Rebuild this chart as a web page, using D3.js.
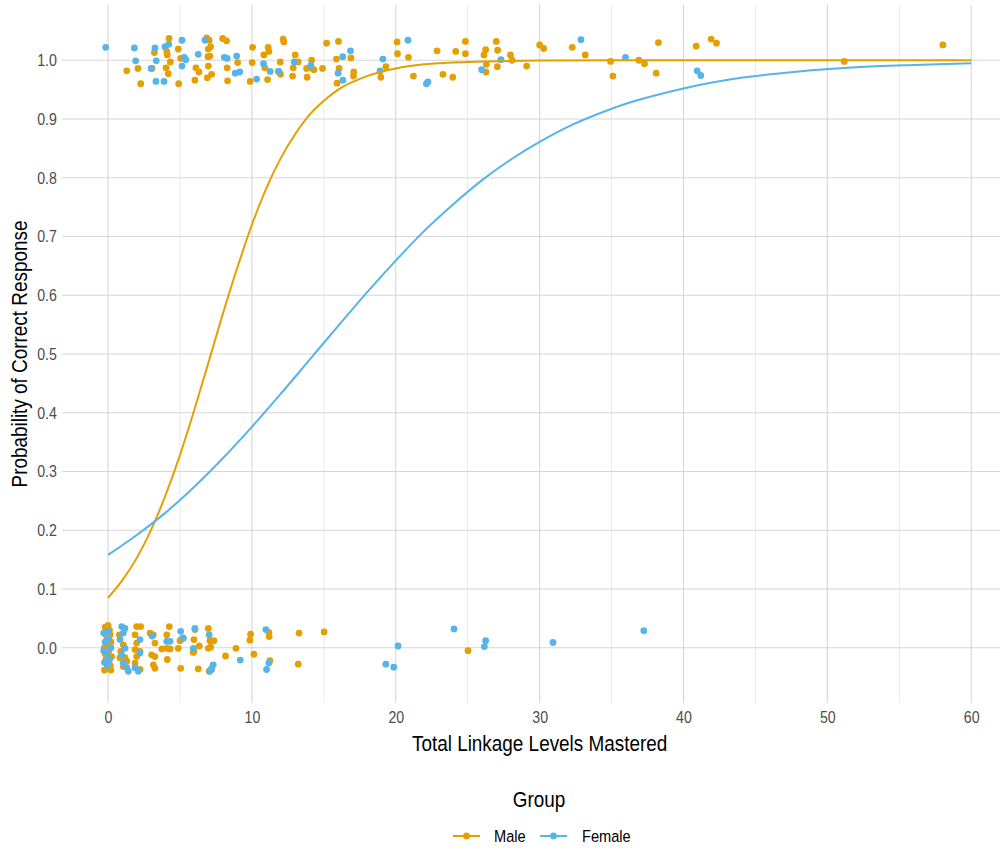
<!DOCTYPE html>
<html>
<head>
<meta charset="utf-8">
<script src="https://cdn.jsdelivr.net/npm/d3@7"></script>
<style>
html,body{margin:0;padding:0;background:#fff;}
text{font-family:"Liberation Sans","Arial",sans-serif;}
</style>
</head>
<body>
<svg id="chart" width="1006" height="850"></svg>
<script>
// ---------- DATA ----------
const groups = ["Male", "Female"];
const groupColors = ["#E69F00", "#56B4E9"];
const xTicks = [0, 10, 20, 30, 40, 50, 60];
const xMinorTicks = [5, 15, 25, 35, 45, 55];
const yTicks = [0.0, 0.1, 0.2, 0.3, 0.4, 0.5, 0.6, 0.7, 0.8, 0.9, 1.0];

// fitted curves
const curveMaleX = [0,1,2,3,4,5,6,7,8,9,10,11,12,13,14,15,16,18,20,22,25,30,35,40,50,60];
const curveMaleY = [0.085,0.115,0.153,0.201,0.260,0.328,0.405,0.487,0.570,0.648,0.720,0.782,0.833,0.874,0.907,0.931,0.950,0.973,0.986,0.993,0.997,0.9995,1.0,1.0,1.0,1.0];
const curveFemaleX = [0,2,4,6,8,10,12,14,16,18,20,22,24,26,28,30,32,34,36,38,40,44,48,52,56,60];
const curveFemaleY = [0.158,0.192,0.230,0.274,0.323,0.376,0.432,0.490,0.548,0.605,0.659,0.710,0.755,0.796,0.831,0.861,0.887,0.908,0.926,0.940,0.952,0.970,0.981,0.988,0.992,0.995];

// jittered observations, correct (near 1)
const maleTopX = [1.30,2.08,2.27,3.22,3.06,4.24,4.08,4.12,4.33,4.03,4.19,4.88,5.05,4.91,6.11,6.32,6.04,6.85,7.03,6.97,7.13,6.94,7.08,6.97,7.20,6.90,7.97,8.24,8.28,8.31,9.01,10.05,10.02,9.88,11.13,11.18,10.83,10.90,11.09,12.17,12.22,11.97,11.83,11.99,13.01,13.22,12.87,12.83,13.84,14.15,13.80,14.03,14.31,14.91,15.19,16.02,15.88,16.88,16.06,15.92,17.08,17.06,20.09,20.12,20.88,19.31,18.96,21.23,22.87,23.28,23.96,24.17,24.84,24.84,26.25,26.13,26.30,26.27,27.06,26.99,27.08,27.97,28.08,29.10,30.00,30.28,32.27,33.17,34.93,35.09,36.90,37.29,38.26,38.10,40.88,41.92,42.29,51.18,58.03];
const maleTopY = [0.982,0.986,0.960,1.013,0.986,1.037,1.015,1.009,0.997,0.987,0.977,1.019,1.003,0.960,0.987,0.980,0.966,1.038,1.034,1.019,1.023,1.006,1.007,0.990,0.976,0.970,1.037,1.033,0.987,0.965,0.996,1.022,0.996,0.964,1.022,1.015,1.009,0.987,0.967,1.036,1.031,0.997,0.981,0.976,1.009,0.997,0.987,0.973,0.971,1.000,0.986,0.987,0.984,0.986,1.029,1.032,1.002,1.004,0.986,0.961,0.980,0.973,1.031,1.011,1.005,0.989,0.971,0.973,1.016,0.976,0.971,1.015,1.032,1.011,1.018,1.009,0.993,0.980,0.989,1.032,1.017,1.009,1.000,0.990,1.026,1.020,1.022,1.009,0.998,0.973,1.000,0.994,1.030,0.978,1.024,1.036,1.029,0.998,1.026];
const femaleTopX = [-0.16,1.83,1.92,2.99,3.26,3.35,3.33,3.89,3.96,4.22,5.14,5.30,5.40,5.14,6.27,6.74,8.08,8.28,8.94,8.84,9.15,10.33,10.81,11.27,11.88,12.94,14.10,16.32,16.85,15.99,16.32,19.10,18.91,20.85,22.24,22.13,25.97,27.31,32.87,35.97,40.95,41.20];
const femaleTopY = [1.022,1.021,0.999,0.986,1.021,0.999,0.964,0.964,1.023,1.027,1.034,1.005,1.001,0.990,1.010,1.034,1.005,1.003,1.007,0.978,0.980,0.968,0.994,0.981,0.981,0.997,0.991,1.006,1.016,0.978,0.966,1.002,0.982,1.034,0.963,0.960,0.984,1.001,1.035,1.005,0.982,0.974];

// jittered observations, incorrect (near 0)
const maleBottomX = [-0.20,0.10,-0.10,0.20,-0.25,0.05,0.25,-0.15,0.15,-0.05,0.20,-0.25,0.00,0.15,-0.20,0.10,0.79,1.06,0.88,0.83,1.18,1.30,1.06,1.99,2.27,1.88,1.99,1.88,2.22,1.99,1.88,2.22,2.92,3.15,3.26,3.03,3.26,3.15,3.26,4.26,4.08,3.73,4.08,4.31,4.12,5.00,4.88,5.12,5.05,5.23,6.04,5.97,5.97,6.27,6.34,5.92,6.97,7.08,7.36,6.97,7.20,7.03,7.13,8.17,8.89,9.91,9.86,10.14,11.18,11.20,11.25,13.28,13.22,15.02,25.02];
const maleBottomY = [0.035,0.030,0.020,0.010,0.000,-0.005,-0.015,-0.020,-0.030,-0.035,-0.038,-0.038,0.038,0.022,-0.010,0.005,0.022,0.005,-0.006,-0.017,-0.017,-0.023,-0.032,0.036,0.036,0.022,0.008,-0.003,-0.006,-0.015,-0.026,-0.037,0.025,0.022,0.008,-0.012,-0.015,-0.029,-0.035,0.036,0.022,-0.002,-0.001,-0.002,-0.020,0.012,-0.001,0.015,-0.035,0.016,0.031,0.014,-0.006,-0.036,0.003,-0.008,0.033,0.012,0.012,-0.001,-0.037,-0.040,0.001,-0.014,-0.001,0.023,0.013,-0.011,0.026,0.019,-0.022,0.025,-0.028,0.027,-0.005];
const femaleBottomX = [-0.30,-0.20,0.05,-0.30,-0.10,-0.25,0.10,0.00,-0.05,0.20,0.95,1.18,1.06,0.83,1.18,0.95,1.06,1.30,1.41,2.22,2.22,1.88,2.10,3.06,4.08,4.31,5.05,5.23,5.93,6.04,7.03,7.31,7.20,7.08,9.19,10.97,11.18,11.02,20.16,19.31,19.86,24.05,26.25,26.16,30.93,37.24];
const femaleBottomY = [0.025,0.010,0.015,-0.005,-0.010,-0.025,-0.020,0.028,-0.030,0.000,0.036,0.033,0.025,0.014,-0.001,-0.012,-0.026,-0.034,-0.040,0.014,-0.009,-0.034,-0.040,0.020,0.011,0.011,0.028,0.017,-0.001,0.033,0.022,-0.029,-0.035,-0.040,-0.021,0.031,-0.026,-0.037,0.003,-0.028,-0.033,0.032,0.012,0.002,0.009,0.029];

// ---------- LAYOUT ----------
const svg = d3.select("#chart");
const narrow = 0.86; // horizontal squeeze to mimic a narrow sans face
const panel = {left: 62, right: 1000, top: 5, bottom: 703};
const x = d3.scaleLinear().domain([-3.2, 62.0]).range([panel.left, panel.right]);
const y = d3.scaleLinear().domain([-0.094, 1.094]).range([panel.bottom, panel.top]);

const grid = svg.append("g");
grid.selectAll(".vmin").data(xMinorTicks).enter().append("line")
  .attr("x1", d => x(d)).attr("x2", d => x(d))
  .attr("y1", panel.top).attr("y2", panel.bottom)
  .attr("stroke", "#e3e3e3").attr("stroke-width", 0.8);
grid.selectAll(".vmaj").data(xTicks).enter().append("line")
  .attr("x1", d => x(d)).attr("x2", d => x(d))
  .attr("y1", panel.top).attr("y2", panel.bottom)
  .attr("stroke", "#d6d6d6").attr("stroke-width", 1.1);
grid.selectAll(".hmaj").data(yTicks).enter().append("line")
  .attr("x1", panel.left).attr("x2", panel.right)
  .attr("y1", d => y(d)).attr("y2", d => y(d))
  .attr("stroke", "#d6d6d6").attr("stroke-width", 1.1);

// axes
const xAxis = d3.axisBottom(x).tickValues(xTicks).tickFormat(d3.format("d")).tickSize(0).tickPadding(8);
const gx = svg.append("g").attr("transform", `translate(0,${panel.bottom})`).call(xAxis);
gx.select(".domain").remove();
gx.selectAll("text").attr("font-size", 16.5).attr("fill", "#4d4d4d")
  .attr("font-family", '"Liberation Sans","Arial",sans-serif')
  .attr("transform", `scale(${narrow},1)`);

const yAxis = d3.axisLeft(y).tickValues(yTicks).tickFormat(d3.format(".1f")).tickSize(0).tickPadding(6);
const gy = svg.append("g").attr("transform", `translate(${panel.left},0)`).call(yAxis);
gy.select(".domain").remove();
gy.selectAll("text").attr("font-size", 16.5).attr("fill", "#4d4d4d")
  .attr("font-family", '"Liberation Sans","Arial",sans-serif')
  .attr("transform", `scale(${narrow},1)`);

// axis titles
svg.append("text")
  .attr("transform", `translate(${(x(0) + x(60)) / 2},751) scale(${narrow},1)`)
  .attr("text-anchor", "middle").attr("font-size", 22).attr("fill", "#000")
  .text("Total Linkage Levels Mastered");
svg.append("text")
  .attr("transform", `translate(27,${(y(0) + y(1)) / 2 + (panel.bottom - y(0)) / 2 - (y(1) - panel.top) / 2}) rotate(-90) scale(${narrow},1)`)
  .attr("text-anchor", "middle").attr("font-size", 22).attr("fill", "#000")
  .text("Probability of Correct Response");

// points
const pointSets = [
  {xs: maleTopX, ys: maleTopY, g: 0},
  {xs: femaleTopX, ys: femaleTopY, g: 1},
  {xs: maleBottomX, ys: maleBottomY, g: 0},
  {xs: femaleBottomX, ys: femaleBottomY, g: 1}
];
const pts = svg.append("g");
pointSets.forEach(s => {
  pts.selectAll(null).data(s.xs.map((v, i) => [v, s.ys[i]])).enter().append("circle")
    .attr("cx", d => x(d[0])).attr("cy", d => y(d[1])).attr("r", 3.4)
    .attr("fill", groupColors[s.g]);
});

// curves
const line = d3.line().x(d => x(d[0])).y(d => y(d[1])).curve(d3.curveMonotoneX);
svg.append("path").datum(curveMaleX.map((v, i) => [v, curveMaleY[i]]))
  .attr("d", line).attr("fill", "none").attr("stroke", groupColors[0]).attr("stroke-width", 2);
svg.append("path").datum(curveFemaleX.map((v, i) => [v, curveFemaleY[i]]))
  .attr("d", line).attr("fill", "none").attr("stroke", groupColors[1]).attr("stroke-width", 2);

// legend
svg.append("text").attr("transform", `translate(539,807) scale(${narrow},1)`).attr("text-anchor", "middle")
  .attr("font-size", 22).attr("fill", "#000").text("Group");
const legItems = [{label: groups[0], lx: 453, tx: 494}, {label: groups[1], lx: 540, tx: 582}];
legItems.forEach((it, i) => {
  const g = svg.append("g");
  g.append("line").attr("x1", it.lx).attr("x2", it.lx + 27).attr("y1", 836).attr("y2", 836)
    .attr("stroke", groupColors[i]).attr("stroke-width", 2);
  g.append("circle").attr("cx", it.lx + 13.5).attr("cy", 836).attr("r", 3.4).attr("fill", groupColors[i]);
  g.append("text").attr("transform", `translate(${it.tx},842) scale(${narrow},1)`)
    .attr("font-size", 17).attr("fill", "#000").text(it.label);
});
</script>
</body>
</html>
